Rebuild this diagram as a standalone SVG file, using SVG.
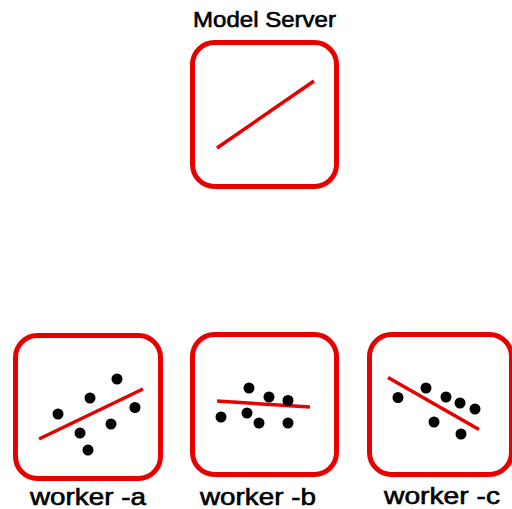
<svg xmlns="http://www.w3.org/2000/svg" width="512" height="509" viewBox="0 0 512 509">
<style>
.box{fill:#fff;stroke:#e60000;stroke-width:5}
.fit{stroke:#e60000;stroke-width:3.5;fill:none}
.pt{fill:#000}
.lbl{font-family:"Liberation Sans",Arial,sans-serif;fill:#000;stroke:#000;stroke-width:0.6;text-anchor:start}
</style>
<rect width="512" height="509" fill="#fff"/>
<g id="model-server">
<text class="lbl" x="193" y="27" font-size="22" textLength="143" lengthAdjust="spacingAndGlyphs">Model Server</text>
<rect class="box" x="192.5" y="42.5" width="144" height="144" rx="22"/>
<line class="fit" x1="217" y1="148" x2="314" y2="81"/>
</g>
<g id="worker-a">
<rect class="box" x="15.5" y="335.5" width="145" height="143" rx="22"/>
<line class="fit" x1="39" y1="439" x2="143" y2="389"/>
<circle class="pt" cx="58" cy="414" r="5.5"/>
<circle class="pt" cx="90" cy="398" r="5.5"/>
<circle class="pt" cx="117" cy="379" r="5.5"/>
<circle class="pt" cx="135" cy="407.5" r="5.5"/>
<circle class="pt" cx="111" cy="424" r="5.5"/>
<circle class="pt" cx="80" cy="433" r="5.5"/>
<circle class="pt" cx="88" cy="450" r="5.5"/>
<text class="lbl" x="30" y="505" font-size="24" textLength="116" lengthAdjust="spacingAndGlyphs">worker -a</text>
</g>
<g id="worker-b">
<rect class="box" x="192.5" y="334.5" width="144" height="140" rx="22"/>
<line class="fit" x1="217" y1="401" x2="310" y2="407"/>
<circle class="pt" cx="249" cy="388" r="5.5"/>
<circle class="pt" cx="269" cy="397" r="5.5"/>
<circle class="pt" cx="288" cy="400.5" r="5.5"/>
<circle class="pt" cx="221" cy="417" r="5.5"/>
<circle class="pt" cx="247" cy="413" r="5.5"/>
<circle class="pt" cx="259" cy="423" r="5.5"/>
<circle class="pt" cx="288" cy="423" r="5.5"/>
<text class="lbl" x="200" y="505" font-size="24" textLength="116" lengthAdjust="spacingAndGlyphs">worker -b</text>
</g>
<g id="worker-c">
<rect class="box" x="369.5" y="334.5" width="142" height="140" rx="22"/>
<line class="fit" x1="388" y1="377.5" x2="479" y2="429.5"/>
<circle class="pt" cx="398" cy="397.5" r="5.5"/>
<circle class="pt" cx="426" cy="388" r="5.5"/>
<circle class="pt" cx="446" cy="397" r="5.5"/>
<circle class="pt" cx="460" cy="403" r="5.5"/>
<circle class="pt" cx="475" cy="409" r="5.5"/>
<circle class="pt" cx="434" cy="422" r="5.5"/>
<circle class="pt" cx="461" cy="434" r="5.5"/>
<text class="lbl" x="384" y="504" font-size="24" textLength="116" lengthAdjust="spacingAndGlyphs">worker -c</text>
</g>
<g id="connectors"/>
</svg>
